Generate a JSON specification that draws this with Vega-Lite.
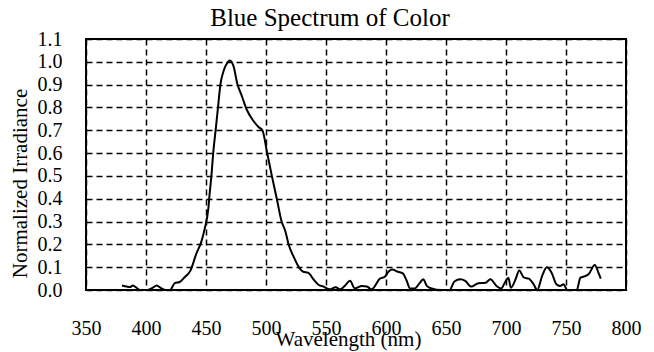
{
  "$schema": "https://vega.github.io/schema/vega-lite/v6.json",
  "width": 540,
  "height": 251,
  "autosize": {"type": "none"},
  "padding": {"left": 86, "top": 39, "right": 28, "bottom": 62},
  "background": "white",
  "title": {
    "text": "Blue Spectrum of Color",
    "font": "Liberation Serif",
    "fontSize": 25,
    "fontWeight": "normal",
    "color": "black",
    "anchor": "middle",
    "baseline": "alphabetic",
    "offset": -22,
    "dx": -26
  },
  "config": {
    "view": {"stroke": "black", "strokeWidth": 2},
    "font": "Liberation Serif"
  },
  "data": {
    "values": [
      {"nm": 380, "v": 0.02}, {"nm": 384, "v": 0.015}, {"nm": 387, "v": 0.013}, {"nm": 389, "v": 0.02},
      {"nm": 392, "v": 0.01}, {"nm": 395, "v": 0.0}, {"nm": 401, "v": 0.0}, {"nm": 405, "v": 0.008},
      {"nm": 409, "v": 0.02}, {"nm": 412, "v": 0.01}, {"nm": 417, "v": 0.0}, {"nm": 420, "v": 0.0},
      {"nm": 424, "v": 0.03}, {"nm": 428, "v": 0.035}, {"nm": 432, "v": 0.055}, {"nm": 437, "v": 0.085},
      {"nm": 442, "v": 0.16}, {"nm": 446, "v": 0.21}, {"nm": 449, "v": 0.27}, {"nm": 452, "v": 0.36},
      {"nm": 453, "v": 0.42}, {"nm": 454.5, "v": 0.5}, {"nm": 456, "v": 0.6}, {"nm": 458, "v": 0.7},
      {"nm": 460, "v": 0.8}, {"nm": 462, "v": 0.9}, {"nm": 465, "v": 0.965}, {"nm": 468, "v": 0.998},
      {"nm": 470, "v": 1.006}, {"nm": 473, "v": 0.98}, {"nm": 476, "v": 0.906}, {"nm": 480, "v": 0.848},
      {"nm": 484, "v": 0.79}, {"nm": 489, "v": 0.745}, {"nm": 494, "v": 0.713}, {"nm": 497, "v": 0.7},
      {"nm": 501, "v": 0.6}, {"nm": 505, "v": 0.497}, {"nm": 509, "v": 0.4}, {"nm": 513, "v": 0.3},
      {"nm": 516, "v": 0.26}, {"nm": 519, "v": 0.197}, {"nm": 523, "v": 0.146}, {"nm": 528, "v": 0.095},
      {"nm": 531, "v": 0.08}, {"nm": 535, "v": 0.076}, {"nm": 540, "v": 0.044}, {"nm": 544, "v": 0.022},
      {"nm": 548, "v": 0.015}, {"nm": 553, "v": 0.003}, {"nm": 558, "v": 0.012}, {"nm": 562, "v": 0.003},
      {"nm": 566, "v": 0.02}, {"nm": 570, "v": 0.04}, {"nm": 574, "v": 0.007}, {"nm": 580, "v": 0.018},
      {"nm": 584, "v": 0.015}, {"nm": 588, "v": 0.003}, {"nm": 595, "v": 0.05}, {"nm": 599, "v": 0.058},
      {"nm": 602, "v": 0.08}, {"nm": 605, "v": 0.09}, {"nm": 610, "v": 0.08}, {"nm": 614, "v": 0.073},
      {"nm": 617, "v": 0.044}, {"nm": 620, "v": 0.007}, {"nm": 624, "v": 0.007}, {"nm": 628, "v": 0.03},
      {"nm": 631, "v": 0.047}, {"nm": 634, "v": 0.018}, {"nm": 638, "v": 0.007}, {"nm": 646, "v": 0.0},
      {"nm": 653, "v": 0.0}, {"nm": 657, "v": 0.037}, {"nm": 662, "v": 0.047}, {"nm": 666, "v": 0.04},
      {"nm": 671, "v": 0.015}, {"nm": 677, "v": 0.03}, {"nm": 683, "v": 0.032}, {"nm": 687, "v": 0.047},
      {"nm": 692, "v": 0.018}, {"nm": 696, "v": 0.007}, {"nm": 699, "v": 0.032}, {"nm": 702, "v": 0.054},
      {"nm": 704, "v": 0.01}, {"nm": 708, "v": 0.047}, {"nm": 711, "v": 0.086}, {"nm": 715, "v": 0.054},
      {"nm": 719, "v": 0.05}, {"nm": 723, "v": 0.025}, {"nm": 726, "v": 0.0}, {"nm": 730, "v": 0.06},
      {"nm": 734, "v": 0.1}, {"nm": 738, "v": 0.076}, {"nm": 742, "v": 0.025}, {"nm": 745, "v": 0.018},
      {"nm": 748, "v": 0.025}, {"nm": 751, "v": 0.0}, {"nm": 759, "v": 0.0}, {"nm": 762, "v": 0.054},
      {"nm": 766, "v": 0.061}, {"nm": 769, "v": 0.07}, {"nm": 774, "v": 0.11}, {"nm": 777, "v": 0.076},
      {"nm": 779, "v": 0.05}
    ]
  },
  "mark": {"type": "line", "color": "black", "strokeWidth": 2, "interpolate": "monotone"},
  "encoding": {
    "x": {
      "field": "nm",
      "type": "quantitative",
      "scale": {"domain": [350, 800], "nice": false, "zero": false},
      "axis": {
        "values": [350, 400, 450, 500, 550, 600, 650, 700, 750, 800],
        "title": "Wavelength (nm)",
        "titleFont": "Liberation Serif",
        "titleFontSize": 21,
        "titleFontWeight": "normal",
        "titleColor": "black",
        "titleX": 262,
        "titleY": 55,
        "titleBaseline": "alphabetic",
        "titleAlign": "center",
        "labelFont": "Liberation Serif",
        "labelFontSize": 20,
        "labelColor": "black",
        "labelPadding": 28,
        "labelFlush": false,
        "ticks": false,
        "domain": false,
        "grid": true,
        "gridColor": "black",
        "gridWidth": 1.5,
        "gridDash": [6, 4],
        "gridOpacity": 1
      }
    },
    "y": {
      "field": "v",
      "type": "quantitative",
      "scale": {"domain": [0, 1.1], "nice": false},
      "axis": {
        "values": [0, 0.1, 0.2, 0.3, 0.4, 0.5, 0.6, 0.7, 0.8, 0.9, 1.0, 1.1],
        "format": ".1f",
        "title": "Normalized Irradiance",
        "titleFont": "Liberation Serif",
        "titleFontSize": 21,
        "titleFontWeight": "normal",
        "titleColor": "black",
        "titleX": -66,
        "titleY": 144,
        "titleAngle": 270,
        "titleAlign": "center",
        "titleBaseline": "middle",
        "labelFont": "Liberation Serif",
        "labelFontSize": 20,
        "labelColor": "black",
        "labelPadding": 24,
        "labelFlush": false,
        "ticks": false,
        "domain": false,
        "grid": true,
        "gridColor": "black",
        "gridWidth": 1.5,
        "gridDash": [6, 4],
        "gridOpacity": 1
      }
    }
  }
}
